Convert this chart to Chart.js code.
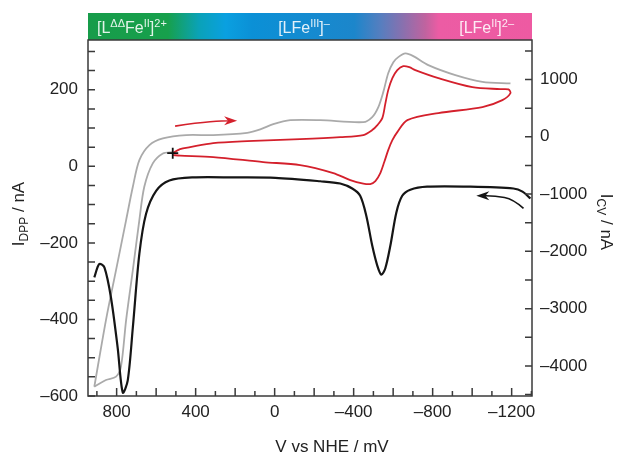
<!DOCTYPE html>
<html>
<head>
<meta charset="utf-8">
<script src="https://cdn.jsdelivr.net/npm/chart.js@4.4.0/dist/chart.umd.min.js"></script>
<style>
  html, body { margin: 0; padding: 0; background: #fff; }
  #wrap { width: 621px; height: 454px; position: relative; }
</style>
</head>
<body>
<div id="wrap"><canvas id="chart"></canvas></div>
<script>
const FONT = '"Liberation Sans", Arial, Helvetica, sans-serif';

// --- DATA ---
// DPP scan, left axis (mV, nA)
const dppV = [913, 888, 862, 829, 795, 769, 744, 718, 685, 651, 600, 533, 414, 200, -3, -231, -332, -393, -433, -464, -494, -520, -540, -560, -586, -616, -646, -687, -772, -991, -1209, -1255, -1295];
const dppI = [-290, -255, -264, -342, -473, -591, -560, -421, -229, -124, -64, -37, -29, -29, -30, -39, -45, -58, -77, -129, -207, -260, -283, -267, -207, -121, -77, -61, -53, -53, -58, -66, -84];

// wide CV, outgoing branch (right axis)
const cvWideOutV = [913, 854, 803, 752, 718, 685, 634, 566, 448, 311, 139, 73, 7, -79, -231, -449, -494, -525, -550, -575, -601, -626, -662, -702, -778, -915, -1052, -1194];
const cvWideOutI = [-4363, -3199, -2327, -1454, -873, -407, -145, -28, 30, 30, 70, 129, 222, 291, 291, 256, 344, 518, 780, 1111, 1303, 1391, 1455, 1408, 1251, 1077, 960, 932];
// wide CV, return part from the start mark downwards
const cvWideBackV = [516, 566, 617, 660, 685, 718, 752, 778, 803, 854, 913];
const cvWideBackI = [-267, -290, -464, -873, -1454, -2326, -3199, -4013, -4188, -4246, -4363];

// narrow CV (red), right axis
const cvV = [516, 479, 428, 311, 139, -129, -332, -449, -494, -520, -545, -560, -575, -596, -621, -651, -682, -712, -829, -1001, -1143, -1184, -1194, -1153, -1052, -829, -672, -621, -596, -575, -555, -535, -510, -484, -449, -383, -297, -129, 58, 311, 479, 514];
const cvI = [-285, -215, -180, -110, -75, -40, -5, 30, 117, 204, 326, 570, 815, 1024, 1164, 1234, 1216, 1164, 1024, 867, 832, 827, 763, 640, 518, 414, 291, 82, -58, -232, -441, -633, -773, -825, -817, -756, -633, -494, -441, -354, -328, -319];

const startV = [516];
const startI = [-285];

// scan direction arrows (tail -> tip)
const redArrowV = [504, 393, 261, 190];
const redArrowI = [187, 244, 279, 279];     // right axis
const blackArrowV = [-1260, -1209, -1118, -1021];
const blackArrowI = [-110, -86, -77, -77];  // left axis

// ticks
const xTicks = [900, 800, 700, 600, 500, 400, 300, 200, 100, 0, -100, -200, -300, -400, -500, -600, -700, -800, -900, -1000, -1100, -1200, -1300];
const xLabels = [800, 400, 0, -400, -800, -1200];
const yLeftTicks = [300, 250, 200, 150, 100, 50, 0, -50, -100, -150, -200, -250, -300, -350, -400, -450, -500, -550, -600];
const yLeftLabels = [200, 0, -200, -400, -600];
const yRightTicks = [1500, 1000, 500, 0, -500, -1000, -1500, -2000, -2500, -3000, -3500, -4000, -4500];
const yRightLabels = [1000, 0, -1000, -2000, -3000, -4000];

// state bar on top
const barStops = [[0, '#179c4a'], [0.18, '#17a04c'], [0.25, '#0aa2b8'], [0.31, '#0aa0e0'], [0.37, '#0b90d6'], [0.6, '#1c86cb'], [0.66, '#577ebf'], [0.71, '#8a70ae'], [0.76, '#c0639f'], [0.79, '#ec5ca4'], [1, '#ee5aa2']];
const stateLabels = [
    { x: 97, align: 'left', parts: [['[L', 0], ['\u0394\u0394', 1], ['Fe', 0], ['II', 1], [']', 0], ['2+', 1]] },
    { x: 304, align: 'center', parts: [['[LFe', 0], ['III', 1], [']', 0], ['\u2013', 1]] },
    { x: 514, align: 'right', parts: [['[LFe', 0], ['II', 1], [']', 0], ['2\u2013', 1]] }
];

const pts = (xs, ys) => xs.map((x, i) => ({ x: x, y: ys[i] }));
const fmt = v => (v < 0 ? '\u2013' + Math.abs(v) : String(v));

// parts: [text, kind] kind 0 normal, 1 superscript, -1 subscript
function drawRich(ctx, parts, x, y, align, size) {
    const small = Math.round(size * 0.68);
    const fontOf = k => (k === 0 ? size : small) + 'px ' + FONT;
    let w = 0;
    parts.forEach(p => { ctx.font = fontOf(p[1]); w += ctx.measureText(p[0]).width; });
    let cx = align === 'center' ? x - w / 2 : align === 'right' ? x - w : x;
    ctx.textAlign = 'left';
    ctx.textBaseline = 'alphabetic';
    parts.forEach(p => {
        ctx.font = fontOf(p[1]);
        const dy = p[1] === 1 ? -size * 0.38 : p[1] === -1 ? size * 0.25 : 0;
        ctx.fillText(p[0], cx, y + dy);
        cx += ctx.measureText(p[0]).width;
    });
}

function drawArrow(ctx, p, color) {
    const n = p.length;
    const tip = p[n - 1], prev = p[n - 2];
    const ang = Math.atan2(tip.y - prev.y, tip.x - prev.x);
    const len = 13, half = 4.5;
    ctx.strokeStyle = color;
    ctx.fillStyle = color;
    ctx.lineWidth = 1.6;
    ctx.beginPath();
    ctx.moveTo(p[0].x, p[0].y);
    for (let i = 1; i < n - 1; i++) {
        const mx = (p[i].x + p[i + 1].x) / 2, my = (p[i].y + p[i + 1].y) / 2;
        ctx.quadraticCurveTo(p[i].x, p[i].y, mx, my);
    }
    ctx.lineTo(tip.x - Math.cos(ang) * 8, tip.y - Math.sin(ang) * 8);
    ctx.stroke();
    ctx.save();
    ctx.translate(tip.x, tip.y);
    ctx.rotate(ang);
    ctx.beginPath();
    ctx.moveTo(0, 0);
    ctx.lineTo(-len, -half);
    ctx.lineTo(-len * 0.7, 0);
    ctx.lineTo(-len, half);
    ctx.closePath();
    ctx.fill();
    ctx.restore();
}

const decorPlugin = {
    id: 'decor',
    beforeDraw(chart) {
        const { ctx, chartArea: a } = chart;
        const g = ctx.createLinearGradient(a.left, 0, a.right, 0);
        barStops.forEach(s => g.addColorStop(s[0], s[1]));
        ctx.save();
        ctx.fillStyle = g;
        ctx.fillRect(a.left, a.top - 27, a.right - a.left, 27);
        ctx.fillStyle = 'rgba(255,255,255,0.88)';
        stateLabels.forEach(l => drawRich(ctx, l.parts, l.x, a.top - 7, l.align, 16));
        ctx.restore();
    },
    afterDatasetsDraw(chart) {
        const { ctx, scales } = chart;
        ctx.save();
        drawArrow(ctx, redArrowV.map((v, i) => ({ x: scales.x.getPixelForValue(v), y: scales.yR.getPixelForValue(redArrowI[i]) })), '#d4202c');
        drawArrow(ctx, blackArrowV.map((v, i) => ({ x: scales.x.getPixelForValue(v), y: scales.yL.getPixelForValue(blackArrowI[i]) })), '#151515');
        ctx.restore();
    },
    afterDraw(chart) {
        const { ctx, chartArea: a, scales } = chart;
        ctx.save();
        ctx.strokeStyle = '#3a3a3a';
        ctx.lineWidth = 1.5;
        ctx.strokeRect(a.left, a.top, a.right - a.left, a.bottom - a.top);
        ctx.beginPath();
        xTicks.forEach(v => {
            const px = scales.x.getPixelForValue(v);
            const l = v % 200 === 0 ? 8 : 5;
            ctx.moveTo(px, a.bottom); ctx.lineTo(px, a.bottom - l);
        });
        yLeftTicks.forEach(v => {
            const py = scales.yL.getPixelForValue(v);
            ctx.moveTo(a.left, py); ctx.lineTo(a.left + 7, py);
        });
        yRightTicks.forEach(v => {
            const py = scales.yR.getPixelForValue(v);
            ctx.moveTo(a.right, py); ctx.lineTo(a.right - 7, py);
        });
        ctx.stroke();

        // axis titles
        ctx.fillStyle = '#222';
        drawRich(ctx, [['V vs NHE / mV', 0]], 332, 452, 'center', 17);
        ctx.save();
        ctx.translate(18, 214);
        ctx.rotate(-Math.PI / 2);
        drawRich(ctx, [['I', 0], ['DPP', -1], [' / nA', 0]], 0, 6, 'center', 17);
        ctx.restore();
        ctx.save();
        ctx.translate(607, 222);
        ctx.rotate(Math.PI / 2);
        drawRich(ctx, [['I', 0], ['CV', -1], [' / nA', 0]], 0, 6, 'center', 17);
        ctx.restore();
        ctx.restore();
    }
};

const tickFont = { family: FONT, size: 17 };
const lineDs = (label, data, color, width, axis) => ({
    label: label, data: data, yAxisID: axis,
    borderColor: color, borderWidth: width, pointRadius: 0,
    tension: 0.3, fill: false
});

new Chart(document.getElementById('chart'), {
    type: 'line',
    data: {
        datasets: [
            {
                label: 'start', data: pts(startV, startI), yAxisID: 'yR', showLine: false,
                pointStyle: 'cross', pointRadius: 5.5, borderColor: '#111', borderWidth: 1.8
            },
            lineDs('CV', pts(cvV, cvI), '#d4202c', 1.8, 'yR'),
            lineDs('DPP', pts(dppV, dppI), '#151515', 2.2, 'yL'),
            lineDs('CV wide', pts(cvWideOutV, cvWideOutI), '#aaaaaa', 1.8, 'yR'),
            lineDs('CV wide back', pts(cvWideBackV, cvWideBackI), '#aaaaaa', 1.8, 'yR')
        ]
    },
    options: {
        responsive: true,
        maintainAspectRatio: false,
        animation: false,
        devicePixelRatio: 1,
        layout: { padding: { top: 40 } },
        plugins: { legend: { display: false }, tooltip: { enabled: false } },
        scales: {
            x: {
                type: 'linear', position: 'bottom', reverse: true, min: -1303, max: 945,
                afterBuildTicks: s => { s.ticks = xTicks.map(v => ({ value: v })); },
                afterFit: s => { s.height = 58; },
                grid: { display: false, drawTicks: false }, border: { display: false },
                ticks: { autoSkip: false, maxRotation: 0, padding: 6, color: '#222', font: tickFont,
                    callback: v => (xLabels.includes(v) ? fmt(v) : '') }
            },
            yL: {
                type: 'linear', position: 'left', min: -600, max: 330,
                afterBuildTicks: s => { s.ticks = yLeftTicks.map(v => ({ value: v })); },
                afterFit: s => { s.width = 88; },
                grid: { display: false, drawTicks: false }, border: { display: false },
                ticks: { autoSkip: false, padding: 10, color: '#222', font: tickFont,
                    callback: v => (yLeftLabels.includes(v) ? fmt(v) : '') }
            },
            yR: {
                type: 'linear', position: 'right', min: -4525, max: 1690,
                afterBuildTicks: s => { s.ticks = yRightTicks.map(v => ({ value: v })); },
                afterFit: s => { s.width = 89; },
                grid: { display: false, drawTicks: false }, border: { display: false },
                ticks: { autoSkip: false, padding: 8, color: '#222', font: tickFont,
                    callback: v => (yRightLabels.includes(v) ? fmt(v) : '') }
            }
        }
    },
    plugins: [decorPlugin]
});
</script>
</body>
</html>
